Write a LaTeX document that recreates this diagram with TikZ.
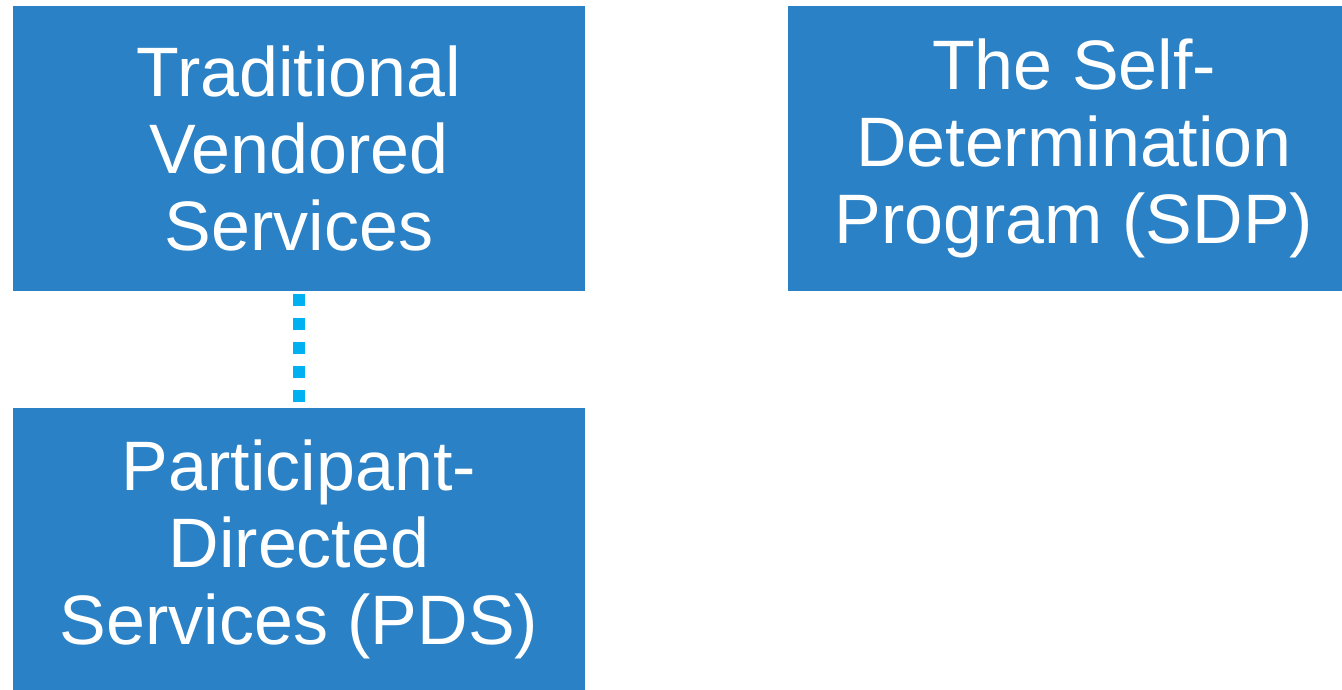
\documentclass[tikz,border=0pt]{standalone}
\usepackage{fontspec}
\setmainfont{Liberation Sans}
\definecolor{boxblue}{HTML}{2A81C6}
\definecolor{dotblue}{HTML}{00B0F0}
\begin{document}
\begin{tikzpicture}[x=1pt,y=-1pt,
  bluebox/.style={rectangle, fill=boxblue, draw=none, text=white, align=center,
    inner sep=0pt, font=\fontsize{70}{77}\selectfont},
  dotline/.style={draw=dotblue, line width=12pt, dash pattern=on 12pt off 12pt}]
\useasboundingbox (0,0) rectangle (1342,690);
\node[bluebox, minimum width=572pt, minimum height=285pt] (tvs) at (299,148.5) {Traditional\\Vendored\\Services};
\node[bluebox, minimum width=572pt, minimum height=285pt] (sdp) at (1074,148.5) {The Self-\\Determination\\Program (SDP)};
\node[bluebox, minimum width=572pt, minimum height=282pt] (pds) at (299,549) {Participant-\\Directed\\Services (PDS)};
\draw[dotline, shorten <=3pt, shorten >=6pt] (tvs.south) -- (pds.north);
\end{tikzpicture}
\end{document}
